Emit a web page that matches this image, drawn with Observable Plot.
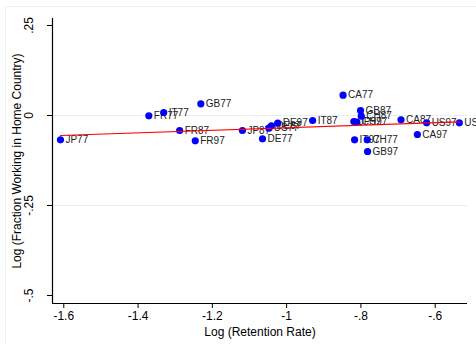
<!DOCTYPE html>
<html>
<head>
<meta charset="utf-8">
<script src="https://cdn.jsdelivr.net/npm/d3@7"></script>
<script src="https://cdn.jsdelivr.net/npm/@observablehq/plot@0.6"></script>
<style>
  html, body { margin: 0; padding: 0; background: #fff; }
  #wrap { position: relative; width: 476px; height: 347px; overflow: hidden; }
  #frame { position: absolute; left: 5px; top: 6px; width: 600px; height: 338px;
           border-left: 1px solid #eef0f0; border-top: 1px solid #eef0f0; }
  #chart { position: absolute; left: 0; top: 0; }
</style>
</head>
<body>
<div id="wrap"><div id="frame"></div><div id="chart"></div></div>
<script>
const labels = ["JP77","FR77","IT77","GB77","FR87","FR97","JP87","US77","DE87","DE97","DE77","IT87",
                "CA77","GB87","CH87","JP97","CH97","IT97","CH77","GB97","CA87","US97","US87","CA97"];
const retention = [-1.609,-1.371,-1.331,-1.231,-1.288,-1.246,-1.119,-1.048,-1.041,-1.024,-1.065,-0.930,
                   -0.848,-0.801,-0.799,-0.819,-0.811,-0.817,-0.783,-0.782,-0.692,-0.623,-0.535,-0.648];
const fraction = [-0.0675,-0.001,0.0083,0.0325,-0.0417,-0.0703,-0.0417,-0.0353,-0.0286,-0.0214,-0.0647,-0.0139,
                  0.0564,0.0139,-0.002,-0.0167,-0.0186,-0.0675,-0.0675,-0.100,-0.012,-0.0203,-0.0203,-0.0528];
// fitted line
const fitX = [-1.609, -0.535];
const fitY = [-0.0556, -0.0175];
const xTicks = [-1.6,-1.4,-1.2,-1,-0.8,-0.6];
const yTicks = [0.25,0,-0.25,-0.5];
const yGrid = [0,-0.25];

const data = labels.map((l,i) => ({label: l, x: retention[i], y: fraction[i]}));
const fit = fitX.map((x,i) => ({x, y: fitY[i]}));
const fmt = d => d === 0 ? "0" : String(d).replace("0.", ".");

const chart = Plot.plot({
  width: 476,
  height: 347,
  marginLeft: 52,
  marginRight: 9,
  marginTop: 18,
  marginBottom: 44,
  style: {fontFamily: "'Liberation Sans', Arial, sans-serif", fontSize: "12px", background: "transparent", color: "#000"},
  x: {domain: [-1.6304, -0.513]},
  y: {domain: [-0.5222, 0.2694]},
  marks: [
    Plot.ruleY(yGrid, {stroke: "#eaeeee", strokeWidth: 1}),
    Plot.axisX({ticks: xTicks, tickFormat: fmt, tickSize: 5, tickPadding: 3, fontSize: 12,
                label: "Log (Retention Rate)", labelAnchor: "center", labelOffset: 32, labelArrow: "none"}),
    Plot.axisY({ticks: yTicks, tickFormat: fmt, tickSize: 5, tickPadding: 15, tickRotate: -90, fontSize: 12,
                label: "Log (Fraction Working in Home Country)", labelAnchor: "center", labelOffset: 40, labelArrow: "none"}),
    Plot.ruleX([-1.6304], {stroke: "#000", strokeWidth: 1.2}),
    Plot.ruleY([-0.5222], {stroke: "#000", strokeWidth: 1.2}),
    Plot.text(data, {x: "x", y: "y", text: "label", textAnchor: "start", dx: 5, fontSize: 10, fill: "#222"}),
    Plot.dot(data, {x: "x", y: "y", r: 3.6, fill: "#0000ff", stroke: "none"}),
    Plot.line(fit, {x: "x", y: "y", stroke: "#ff0000", strokeWidth: 1.2})
  ]
});
document.getElementById("chart").appendChild(chart);
</script>
</body>
</html>
